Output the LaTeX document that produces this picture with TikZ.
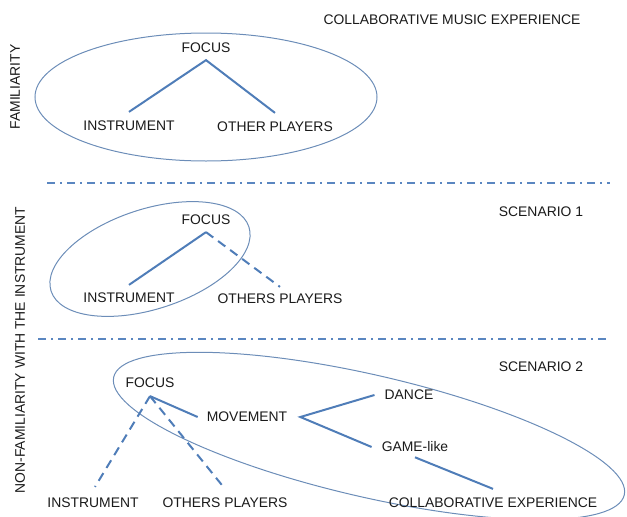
\documentclass[tikz,border=0pt]{standalone}
\usepackage{fontspec}
\setmainfont{Liberation Sans}
\usepackage{tikz}
\usetikzlibrary{positioning}
\definecolor{ink}{HTML}{1A1A1A}
\definecolor{wire}{HTML}{4F7DB8}
\definecolor{rim}{HTML}{6C8DB8}
\definecolor{rule}{HTML}{5A86C0}

\begin{document}
\begin{tikzpicture}[x=1pt,y=-1pt,font=\fontsize{13.9}{16}\selectfont,
 lab/.style={text=ink,inner sep=0pt},
 link/.style={wire,line width=2pt},
 maybe/.style={link,dash pattern=on 9pt off 6pt},
 bubble/.style={rim,line width=1pt},
 divider/.style={rule,line width=2pt,dash pattern=on 8pt off 5pt on 2pt off 5pt}]
\useasboundingbox (0,0) rectangle (627,517);
\node[lab] (title) at (452,20) {COLLABORATIVE MUSIC EXPERIENCE};
\node[lab,rotate=90] (fam) at (15,87) {FAMILIARITY};
\node[lab,rotate=90] (nonfam) at (20,350) {NON-FAMILIARITY WITH THE INSTRUMENT};
\node[lab] (scA) at (541,212) {SCENARIO 1};
\node[lab] (scB) at (541,367) {SCENARIO 2};
\draw[divider] (47,183) -- (610,183);
\draw[divider] (38,339) -- (610,339);

\draw[bubble] (206,97) ellipse [x radius=171,y radius=64];
\node[lab] (focA) at (206,48) {FOCUS};
\node[lab] (instA) at (129,126) {INSTRUMENT};
\node[lab] (othA) at (275,127) {OTHER PLAYERS};
\draw[link] ([yshift=9pt]instA.north) -- ([yshift=-7pt]focA.south) -- ([yshift=9pt]othA.north);

\draw[bubble,rotate around={18:(150,259)}] (150,259) ellipse [x radius=104,y radius=50];
\node[lab] (focB) at (206,220) {FOCUS};
\node[lab] (instB) at (129,298) {INSTRUMENT};
\node[lab] (othB) at (280,299) {OTHERS PLAYERS};
\draw[link] ([yshift=-7pt]focB.south) -- ([yshift=8pt]instB.north);
\draw[maybe] ([yshift=-7pt]focB.south) -- ([yshift=7pt]othB.north);

\draw[bubble,rotate around={-13:(369,436)}] (369,436) ellipse [x radius=262,y radius=61];
\node[lab] (focC) at (150,383) {FOCUS};
\node[lab] (instC) at (93,503) {INSTRUMENT};
\node[lab] (othC) at (225,503) {OTHERS PLAYERS};
\node[lab] (move) at (247,417) {MOVEMENT};
\node[lab] (dance) at (409,395) {DANCE};
\node[lab] (game) at (415,447) {GAME-like};
\node[lab] (collab) at (493,503) {COLLABORATIVE EXPERIENCE};
\coordinate (tipC) at ([yshift=-8pt]focC.south);
\coordinate (fork) at ([xshift=13pt]move.east);
\draw[maybe] (tipC) -- ([xshift=2pt,yshift=11pt]instC.north);
\draw[maybe] (tipC) -- ([yshift=9pt]othC.north);
\draw[link] (tipC) -- ([xshift=-9pt]move.west);
\draw[link] ([xshift=-10pt]dance.west) -- (fork) -- ([xshift=-10pt]game.west);
\draw[link] ([yshift=-5pt]game.south) -- ([yshift=9pt]collab.north);
\end{tikzpicture}
\end{document}
